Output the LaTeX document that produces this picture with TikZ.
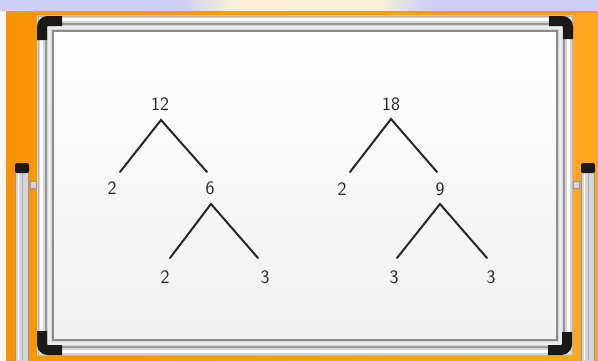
\documentclass[tikz,border=0pt]{standalone}
\usepackage{tikz}
\usetikzlibrary{positioning}
\definecolor{wallbg}{RGB}{206,208,243}
\definecolor{glowbg}{RGB}{250,240,218}
\definecolor{orangeL}{RGB}{250,148,4}
\definecolor{orangeR}{RGB}{255,166,32}
\definecolor{rail}{RGB}{214,214,218}
\definecolor{railedge}{RGB}{150,150,156}
\definecolor{ink}{RGB}{40,40,40}

\begin{document}
\begin{tikzpicture}[x=1pt,y=-1pt,
    num/.style={font=\sffamily\fontsize{19}{19}\selectfont,text=ink,inner sep=1pt},
    branch/.style={draw=ink,line width=2pt,line cap=round},
    corner/.style={draw=black!90,line width=10pt,rounded corners=6pt},
    leg/.style={fill=rail,draw=railedge,line width=0.8pt}]
  \useasboundingbox (0,0) rectangle (598,360);

  % wall and backdrop
  \fill[white!95!orange] (0,0) rectangle (598,360);
  \fill[wallbg] (0,0) rectangle (598,11);
  \shade[left color=wallbg,right color=glowbg] (185,0) rectangle (230,11);
  \fill[glowbg] (230,0) rectangle (380,11);
  \shade[left color=glowbg,right color=wallbg] (380,0) rectangle (425,11);
  \shade[left color=orangeL,right color=orangeR] (6,11) rectangle (598,360);
  \fill[orange!80!yellow] (6,11) rectangle (598,12.5);

  % stand legs
  \draw[leg] (15,172) rectangle (28,361);
  \draw[white,line width=1.5pt] (18.5,173) -- (18.5,360);
  \draw[railedge!80,line width=1pt] (22,173) -- (22,360);
  \fill[black!90,rounded corners=2pt] (15,163) rectangle (29,173);
  \draw[fill=rail,draw=railedge] (30,181) rectangle (36,188);
  \draw[leg] (581,172) rectangle (594,361);
  \draw[white,line width=1.5pt] (584.5,173) -- (584.5,360);
  \draw[railedge!80,line width=1pt] (588,173) -- (588,360);
  \fill[black!90,rounded corners=2pt] (581,163) rectangle (595,173);
  \draw[fill=rail,draw=railedge] (573,181) rectangle (579,188);

  % frame rails
  \fill[rail] (37,15) rectangle (573,356);
  \draw[railedge!70,line width=1pt] (38,16) rectangle (572,355);
  \draw[white,line width=2.5pt] (41.5,19.5) rectangle (568.5,351.5);
  \draw[railedge,line width=1.2pt] (46,24) rectangle (564,347);
  \draw[black!8,line width=3pt] (49.5,27.5) rectangle (560.5,343.5);

  % writing surface
  \shade[top color=white,bottom color=black!6,draw=black!45,line width=2pt]
    (53,31) rectangle (557,340);

  % black corner caps
  \draw[corner] (42,40) -- (42,21) -- (62,21);
  \draw[corner] (549,21) -- (568,21) -- (568,39);
  \draw[corner] (42,331) -- (42,350) -- (62,350);
  \draw[corner] (548,350) -- (567,350) -- (567,332);

  % factor tree of 12
  \node[num] (t12) at (160,104) {12};
  \node[num] (t12a) at (112,188) {2};
  \node[num] (t6) at (210,188) {6};
  \node[num] (t6a) at (165,277) {2};
  \node[num] (t6b) at (265,277) {3};
  \draw[branch] ([shift={(8,-16)}]t12a.center) -- ([shift={(1,16)}]t12.center)
    -- ([shift={(-3,-16)}]t6.center);
  \draw[branch] ([shift={(5,-19)}]t6a.center) -- ([shift={(1,16)}]t6.center)
    -- ([shift={(-7,-19)}]t6b.center);

  % factor tree of 18
  \node[num] (t18) at (391,104) {18};
  \node[num] (t18a) at (342,189) {2};
  \node[num] (t9) at (440,189) {9};
  \node[num] (t9a) at (394,277) {3};
  \node[num] (t9b) at (491,277) {3};
  \draw[branch] ([shift={(8,-17)}]t18a.center) -- ([shift={(0,15)}]t18.center)
    -- ([shift={(-3,-17)}]t9.center);
  \draw[branch] ([shift={(3,-19)}]t9a.center) -- ([shift={(0,15)}]t9.center)
    -- ([shift={(-4,-19)}]t9b.center);
\end{tikzpicture}
\end{document}
